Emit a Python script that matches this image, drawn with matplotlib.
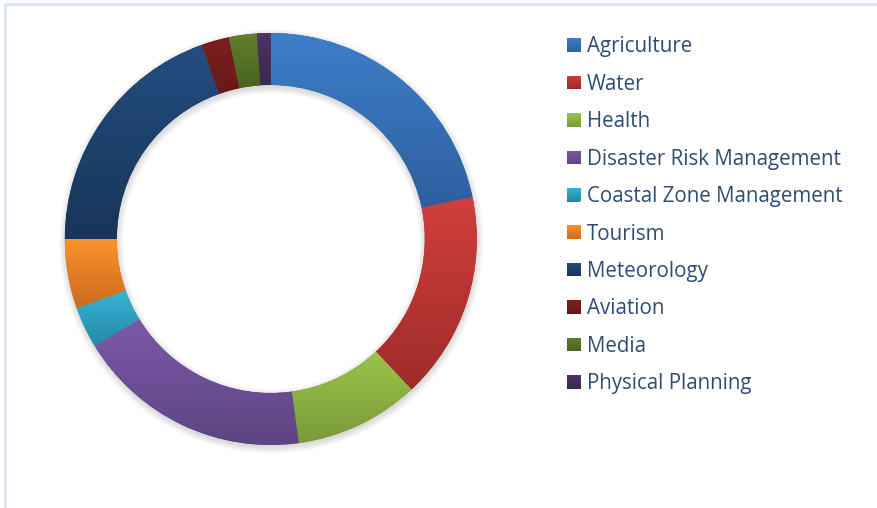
import numpy as np
import matplotlib.pyplot as plt
from matplotlib.colors import LinearSegmentedColormap
from matplotlib.patches import Rectangle, Wedge

# sectors and number of projects
sectors = ['Agriculture', 'Water', 'Health', 'Disaster Risk Management',
           'Coastal Zone Management', 'Tourism', 'Meteorology', 'Aviation',
           'Media', 'Physical Planning']
counts = [20, 15, 9, 17, 3, 5, 18, 2, 2, 1]

# light (top) / dark (bottom) shade for each slice
top_colors = ['#3E7EC9', '#D13F3C', '#9CC44A', '#7C59A8', '#38B5D6',
              '#FA922D', '#244D80', '#7E1F1F', '#637F2C', '#4D3566']
bottom_colors = ['#2D5F9E', '#9E2B2A', '#789A3A', '#5E4482', '#2488A4',
                 '#CC6A1F', '#173559', '#661818', '#4A6220', '#3A2850']

W, H = 878, 508
cx, cy = 270.8, H - 239
R, ring = 206, 52

fig = plt.figure(figsize=(W / 100, H / 100), dpi=100)
ax = fig.add_axes([0, 0, 1, 1])

# soft shadow under the ring
for k in range(6):
    ax.add_patch(Wedge((cx + 0.5, cy - 2.5), R + 1.2 * k, 0, 360,
                       width=ring + 2.4 * k, facecolor='black',
                       edgecolor='none', alpha=0.025, zorder=1))
ax.add_patch(Wedge((cx, cy), R - 0.5, 0, 360, width=ring - 1,
                   facecolor='white', edgecolor='none', zorder=1.5))

wedges, _ = ax.pie(counts, center=(cx, cy), radius=R, startangle=90,
                   counterclock=False,
                   wedgeprops=dict(width=ring, edgecolor='none', linewidth=0))

grad = np.linspace(0, 1, 256).reshape(-1, 1)


def fill_gradient(patch, c_top, c_bot, z):
    cmap = LinearSegmentedColormap.from_list('g', [c_top, c_bot])
    bb = patch.get_path().get_extents(patch.get_patch_transform())
    im = ax.imshow(grad, cmap=cmap, aspect='auto', origin='upper',
                   extent=[bb.x0, bb.x1, bb.y0, bb.y1], zorder=z,
                   interpolation='bilinear')
    im.set_clip_path(patch)


for w, ct, cb in zip(wedges, top_colors, bottom_colors):
    w.set_facecolor(cb)
    w.set_zorder(2)
    fill_gradient(w, ct, cb, 3)

# legend
row0, step = 45, 37.45
for i, (name, ct, cb) in enumerate(zip(sectors, top_colors, bottom_colors)):
    yc = H - (row0 + step * i)
    sq = Rectangle((567, yc - 6.7), 13.5, 13.5, facecolor=cb,
                   edgecolor='none', zorder=2)
    ax.add_patch(sq)
    fill_gradient(sq, ct, cb, 3)
    ax.text(587, yc - 7.3, name, fontsize=14.8, family='Open Sans',
            color='#2F4C74', va='baseline', ha='left')

# chart area frame
ax.plot([5.5, 5.5, W], [0, H - 3.5, H - 3.5], color='#DAE5F5',
        linewidth=2, solid_capstyle='butt')

ax.set_xlim(0, W)
ax.set_ylim(0, H)
ax.set_aspect('equal')
ax.axis('off')

fig.savefig('out.png', dpi=100)
